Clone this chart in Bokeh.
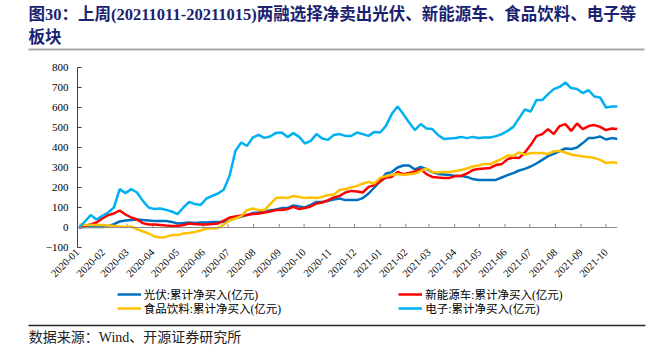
import math
import pandas as pd
from bokeh.plotting import figure
from bokeh.layouts import column
from bokeh.models import (Range1d, FixedTicker, Span, Label, Legend, LegendItem,
                          DatetimeTickFormatter)
from bokeh.embed import file_html
from bokeh.resources import INLINE

# ---------------- data (weekly, cumulative net buying, 亿元) ----------------
first_week = "2020-01-03"
n_weeks = 94
dates = pd.date_range(first_week, periods=n_weeks, freq="7D")

pv = [0, 2, 3, 3, 3, 5, 17, 30, 35, 38,
      40, 37, 35, 33, 32, 32, 28, 20, 22, 25,
      23, 25, 25, 27, 27, 28, 38, 47, 53, 63,
      72, 75, 80, 85, 90, 97, 97, 110, 105, 100,
      113, 128, 128, 133, 140, 145, 137, 137, 137, 147,
      170, 200, 232, 270, 277, 300, 310, 310, 290, 303,
      292, 277, 268, 265, 263, 258, 258, 253, 242, 237,
      237, 237, 238, 250, 262, 272, 285, 293, 305, 320,
      338, 357, 368, 382, 395, 392, 400, 422, 447, 448,
      455, 440, 447, 443]

nev = [0, 8, 15, 25, 45, 62, 70, 85, 65, 50,
       40, 22, 15, 15, 13, 10, 8, 8, 12, 20,
       17, 15, 15, 17, 20, 35, 50, 55, 60, 63,
       67, 70, 75, 80, 87, 88, 92, 103, 92, 97,
       105, 120, 125, 137, 150, 158, 175, 183, 180, 175,
       203, 212, 230, 250, 253, 278, 267, 273, 280, 292,
       267, 253, 250, 248, 248, 257, 258, 270, 287, 292,
       295, 298, 312, 317, 342, 350, 348, 375, 412, 457,
       467, 492, 467, 507, 517, 483, 520, 492, 507, 512,
       503, 487, 495, 492]

food = [15, 13, 13, 13, 12, 10, 8, 5, 3, 5,
        -8, -20, -30, -45, -50, -47, -38, -38, -30, -27,
        -22, -15, -5, -5, -3, 15, 35, 45, 57, 87,
        95, 87, 87, 117, 147, 150, 147, 158, 153, 147,
        150, 147, 153, 163, 165, 187, 192, 200, 208, 220,
        228, 220, 248, 257, 262, 267, 262, 266, 270, 282,
        295, 278, 275, 278, 278, 283, 287, 295, 305, 310,
        318, 316, 330, 343, 360, 358, 376, 364, 372, 372,
        372, 368, 381, 383, 375, 365, 360, 355, 352, 348,
        338, 323, 326, 323]

elec = [0, 30, 62, 40, 58, 75, 100, 192, 172, 192,
        175, 133, 100, 92, 95, 88, 80, 67, 100, 128,
        117, 113, 145, 158, 170, 190, 260, 383, 425, 408,
        450, 463, 448, 455, 473, 475, 452, 472, 453, 420,
        433, 467, 445, 438, 463, 467, 458, 458, 475, 467,
        458, 478, 475, 508, 567, 605, 567, 525, 487, 517,
        495, 492, 463, 442, 445, 448, 453, 447, 453, 448,
        450, 450, 457, 467, 483, 503, 547, 590, 580, 637,
        637, 667, 692, 703, 725, 697, 693, 672, 687, 655,
        650, 600, 605, 605]

series_names = ["光伏:累计净买入(亿元)", "新能源车:累计净买入(亿元)",
                "食品饮料:累计净买入(亿元)", "电子:累计净买入(亿元)"]
series_colors = ["#0070C0", "#FF0000", "#FFC000", "#00B0F0"]

month_labels = ["2020-01", "2020-02", "2020-03", "2020-04", "2020-05", "2020-06",
                "2020-07", "2020-08", "2020-09", "2020-10", "2020-11", "2020-12",
                "2021-01", "2021-02", "2021-03", "2021-04", "2021-05", "2021-06",
                "2021-07", "2021-08", "2021-09", "2021-10"]
y_ticks = [-100, 0, 100, 200, 300, 400, 500, 600, 700, 800]

title_text = "图30：上周(20211011-20211015)两融选择净卖出光伏、新能源车、食品饮料、电子等"
title_text2 = "板块"
source_text = "数据来源：Wind、开源证券研究所"

SERIF_CJK = "Liberation Serif, Noto Sans CJK SC"
W = 661
TOP_H = 58
MAIN_H = 229
BOT_H = 73


def blank_fig(height, y_top, y_bottom):
    f = figure(width=W, height=height, x_range=Range1d(0, W),
               y_range=Range1d(start=y_bottom, end=y_top),
               x_axis_type=None, y_axis_type=None,
               output_backend="svg", toolbar_location=None,
               min_border=0, min_border_left=0, min_border_right=0,
               min_border_top=0, min_border_bottom=0, frame_align=False)
    f.outline_line_color = None
    f.grid.visible = False
    return f


# ---------------- header ----------------
top = blank_fig(TOP_H, 0, TOP_H)
top.add_layout(Label(x=28, y=13.5, text=title_text, text_font=SERIF_CJK,
                     text_font_style="bold", text_font_size="16.5px",
                     text_color="#1a2270", text_baseline="middle"))
top.add_layout(Label(x=28, y=37, text=title_text2, text_font=SERIF_CJK,
                     text_font_style="bold", text_font_size="16.5px",
                     text_color="#1a2270", text_baseline="middle"))
top.segment(x0=[28], y0=[49], x1=[644], y1=[49], line_color="#a6a6a6", line_width=2)

# ---------------- main chart ----------------
p = figure(width=W, height=MAIN_H, x_axis_type="datetime",
           x_range=Range1d(pd.Timestamp("2020-01-01"), pd.Timestamp("2021-10-15")),
           y_range=Range1d(-100, 800),
           output_backend="svg", toolbar_location=None,
           min_border_left=77, min_border_right=44,
           min_border_top=9, min_border_bottom=40, frame_align=False)
p.outline_line_color = None
p.grid.visible = False

tick_dates = [pd.Timestamp(m + "-01") for m in month_labels]
tick_ms = [t.timestamp() * 1000 for t in tick_dates]

xa = p.xaxis[0]
xa.ticker = FixedTicker(ticks=tick_ms)
xa.formatter = DatetimeTickFormatter(days="%Y-%m", months="%Y-%m", years="%Y-%m",
                                     hours="%Y-%m", minutes="%Y-%m", seconds="%Y-%m")
xa.axis_line_color = None
xa.major_tick_line_color = None
xa.minor_tick_line_color = None
xa.major_tick_out = 0
xa.major_tick_in = 0
xa.major_label_orientation = math.pi / 4
xa.major_label_standoff = 3
xa.major_label_text_font = "Liberation Serif"
xa.major_label_text_font_size = "10.5px"
xa.major_label_text_color = "#000000"

ya = p.yaxis[0]
ya.ticker = FixedTicker(ticks=y_ticks)
ya.axis_line_color = "#404040"
ya.major_tick_line_color = "#404040"
ya.major_tick_in = 4
ya.major_tick_out = 0
ya.minor_tick_line_color = None
ya.major_label_standoff = 9
ya.major_label_text_font = "Liberation Serif"
ya.major_label_text_font_size = "11px"
ya.major_label_text_color = "#000000"

# zero line acting as the category axis, with inward ticks
p.add_layout(Span(location=0, dimension="width", line_color="#8c8c8c", line_width=1))
p.segment(x0=tick_dates, y0=[0] * len(tick_dates), x1=tick_dates, y1=[18] * len(tick_dates),
          line_color="#8c8c8c", line_width=1)

for vals, col in zip([pv, nev, food, elec], series_colors):
    p.line(dates, vals, line_color=col, line_width=2.5)

# ---------------- footer: legend + source ----------------
bot_top = TOP_H + MAIN_H
bot = blank_fig(BOT_H, bot_top, bot_top + BOT_H)
# legend-only renderers (a single NaN row: nothing is drawn in the plot area)
leg_renderers = [bot.line(x=[0.0], y=[float("nan")], line_color=c, line_width=2.5)
                 for c in series_colors]
leg_locs = [(116.7, BOT_H - (294.3 - bot_top) - 8), (398.3, BOT_H - (294.3 - bot_top) - 8),
            (116.7, BOT_H - (308.3 - bot_top) - 8), (398.3, BOT_H - (308.3 - bot_top) - 8)]
for r, name, loc in zip(leg_renderers, series_names, leg_locs):
    leg = Legend(items=[LegendItem(label=name, renderers=[r])], location=loc,
                 orientation="horizontal", padding=0, margin=0, spacing=0,
                 glyph_width=24, glyph_height=16, label_height=16, label_standoff=3,
                 label_text_font=SERIF_CJK, label_text_font_size="11.5px",
                 label_text_color="#000000",
                 background_fill_alpha=0, border_line_alpha=0)
    bot.add_layout(leg, "center")

bot.segment(x0=[28], y0=[325], x1=[645], y1=[325], line_color="#262626", line_width=1.5)
bot.add_layout(Label(x=28.3, y=337.3, text=source_text, text_font=SERIF_CJK,
                     text_font_size="14px", text_color="#222222", text_baseline="middle"))

layout = column(top, p, bot, spacing=0)
open("out.html", "w").write(file_html(layout, INLINE))
